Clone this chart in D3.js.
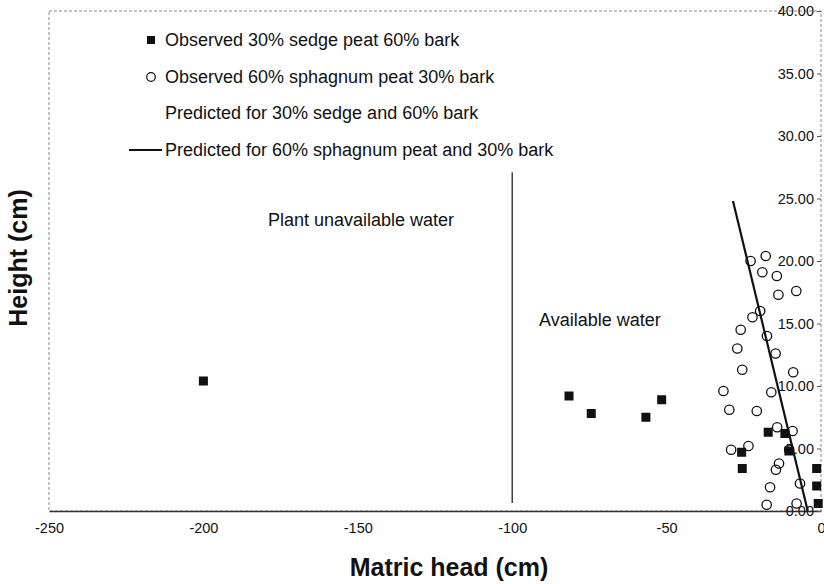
<!DOCTYPE html>
<html lang="en">
<head>
    <meta charset="UTF-8">
    <title>Matric head vs height</title>
    <script src="https://d3js.org/d3.v7.min.js"></script>
    <style>
        body {
            margin: 0;
            background-color: #fff;
        }
        svg {
            display: block;
            font-family: 'Liberation Sans', Arial, sans-serif;
        }
        .frame {
            fill: none;
            stroke: #888;
            stroke-width: 1px;
            stroke-dasharray: 3 2;
        }
        .axis-label {
            font-weight: bold;
            font-size: 25px;
            fill: #111;
        }
        .tick text {
            font-size: 14.5px;
            fill: #111;
        }
        .note {
            font-size: 18px;
            fill: #111;
        }
        .legend text {
            font-size: 18px;
            fill: #111;
        }
    </style>
</head>
<body>

<svg id="chart" width="824" height="584"></svg>

<script>
    // observed points, 30% sedge peat 60% bark (filled squares)
    var sedgeObserved = [
        [-200.0, 10.4], [-81.6, 9.2], [-74.4, 7.8], [-56.7, 7.5], [-51.6, 8.9],
        [-17.1, 6.3], [-11.7, 6.2], [-25.7, 4.7], [-10.4, 4.8], [-25.5, 3.4],
        [-1.4, 3.4], [-1.4, 2.0], [-0.9, 0.6]
    ];
    // observed points, 60% sphagnum peat 30% bark (open circles)
    var sphagnumObserved = [
        [-22.8, 20.0], [-17.9, 20.4], [-19.0, 19.1], [-14.3, 18.8], [-13.8, 17.3],
        [-8.0, 17.6], [-19.7, 16.0], [-22.2, 15.5], [-26.0, 14.5], [-17.5, 14.0],
        [-27.1, 13.0], [-14.7, 12.6], [-25.5, 11.3], [-9.0, 11.1], [-31.6, 9.6],
        [-16.1, 9.5], [-29.7, 8.1], [-20.8, 8.0], [-14.2, 6.7], [-9.2, 6.4],
        [-29.1, 4.9], [-23.5, 5.2], [-10.3, 4.9], [-13.6, 3.8], [-14.6, 3.3],
        [-6.8, 2.2], [-16.5, 1.9], [-17.6, 0.5], [-7.9, 0.6]
    ];
    // predicted line, 60% sphagnum peat and 30% bark
    var sphagnumPredicted = [[-28.5, 24.8], [-4.3, 0]];
    // boundary between plant unavailable and available water
    var waterBoundary = [[-100, 0.64], [-100, 27.1]];

    var xTicks = [-250, -200, -150, -100, -50, 0];
    var yTicks = [0, 5, 10, 15, 20, 25, 30, 35, 40];

    var legendLabels = [
        "Observed 30% sedge peat 60% bark",
        "Observed 60% sphagnum peat 30% bark",
        "Predicted for 30% sedge and 60% bark",
        "Predicted for 60% sphagnum peat and 30% bark"
    ];
    var notes = [
        {text: "Plant unavailable water", x: -179.1, y: 23.3},
        {text: "Available water", x: -91.3, y: 15.3}
    ];

    var svg = d3.select("#chart"),
        margin = {top: 11, right: 3, bottom: 73, left: 49},
        width = +svg.attr("width") - margin.left - margin.right,
        height = +svg.attr("height") - margin.top - margin.bottom;

    var x = d3.scaleLinear().domain([-250, 0]).range([0, width]),
        y = d3.scaleLinear().domain([0, 40]).range([height, 0]);

    var g = svg.append("g").attr("transform", "translate(" + margin.left + "," + margin.top + ")");

    // plot frame
    g.append("rect").attr("class", "frame").attr("x", 0).attr("y", 0).attr("width", width).attr("height", height);

    // x axis along the bottom, plain hyphen for the minus sign
    var xAxis = g.append("g").attr("transform", "translate(0," + height + ")")
        .call(d3.axisBottom(x).tickValues(xTicks).tickSize(0).tickPadding(12)
            .tickFormat(function(d) { return String(d); }));
    xAxis.select(".domain").attr("stroke", "#333").attr("stroke-width", 1.5);
    // last label sits on the page edge, keep it inside
    xAxis.selectAll(".tick text").filter(function(d) { return d === 0; })
        .attr("text-anchor", "end").attr("dx", "4px");

    // y axis sits at x = 0, on the right
    var yAxis = g.append("g").attr("transform", "translate(" + x(0) + ",0)")
        .call(d3.axisLeft(y).tickValues(yTicks).tickFormat(d3.format(".2f")).tickSize(4).tickPadding(3));
    yAxis.select(".domain").remove();
    yAxis.selectAll(".tick line").attr("stroke", "#555");

    var line = d3.line().x(function(d) { return x(d[0]); }).y(function(d) { return y(d[1]); });

    g.append("path").datum(waterBoundary).attr("d", line)
        .attr("fill", "none").attr("stroke", "#111").attr("stroke-width", 1.2);

    g.append("path").datum(sphagnumPredicted).attr("d", line)
        .attr("fill", "none").attr("stroke", "#111").attr("stroke-width", 2.2);

    g.selectAll(".circ").data(sphagnumObserved).enter().append("circle")
        .attr("class", "circ")
        .attr("cx", function(d) { return x(d[0]); })
        .attr("cy", function(d) { return y(d[1]); })
        .attr("r", 4.7)
        .attr("fill", "none").attr("stroke", "#111").attr("stroke-width", 1.3);

    g.selectAll(".sq").data(sedgeObserved).enter().append("rect")
        .attr("class", "sq")
        .attr("x", function(d) { return x(d[0]) - 4.5; })
        .attr("y", function(d) { return y(d[1]) - 4.5; })
        .attr("width", 9).attr("height", 9)
        .attr("fill", "#111");

    g.selectAll(".note").data(notes).enter().append("text")
        .attr("class", "note")
        .attr("x", function(d) { return x(d.x); })
        .attr("y", function(d) { return y(d.y); })
        .attr("dy", "0.35em")
        .text(function(d) { return d.text; });

    // legend
    var legend = svg.append("g").attr("class", "legend");
    var rowY = [40, 77, 113, 150];
    legendLabels.forEach(function(label, i) {
        legend.append("text").attr("x", 165).attr("y", rowY[i]).attr("dy", "0.35em").text(label);
    });
    legend.append("rect").attr("x", 147).attr("y", rowY[0] - 4).attr("width", 8).attr("height", 8).attr("fill", "#111");
    legend.append("circle").attr("cx", 151).attr("cy", rowY[1]).attr("r", 4.3)
        .attr("fill", "none").attr("stroke", "#111").attr("stroke-width", 1.2);
    legend.append("line").attr("x1", 129).attr("x2", 162).attr("y1", rowY[3]).attr("y2", rowY[3])
        .attr("stroke", "#111").attr("stroke-width", 2);

    // axis titles
    svg.append("text").attr("class", "axis-label")
        .attr("x", 449).attr("y", 567).attr("dy", "0.35em")
        .attr("text-anchor", "middle").text("Matric head (cm)");
    svg.append("text").attr("class", "axis-label")
        .attr("transform", "translate(18,258) rotate(-90)").attr("dy", "0.35em")
        .attr("text-anchor", "middle").text("Height (cm)");
</script>
</body>
</html>
